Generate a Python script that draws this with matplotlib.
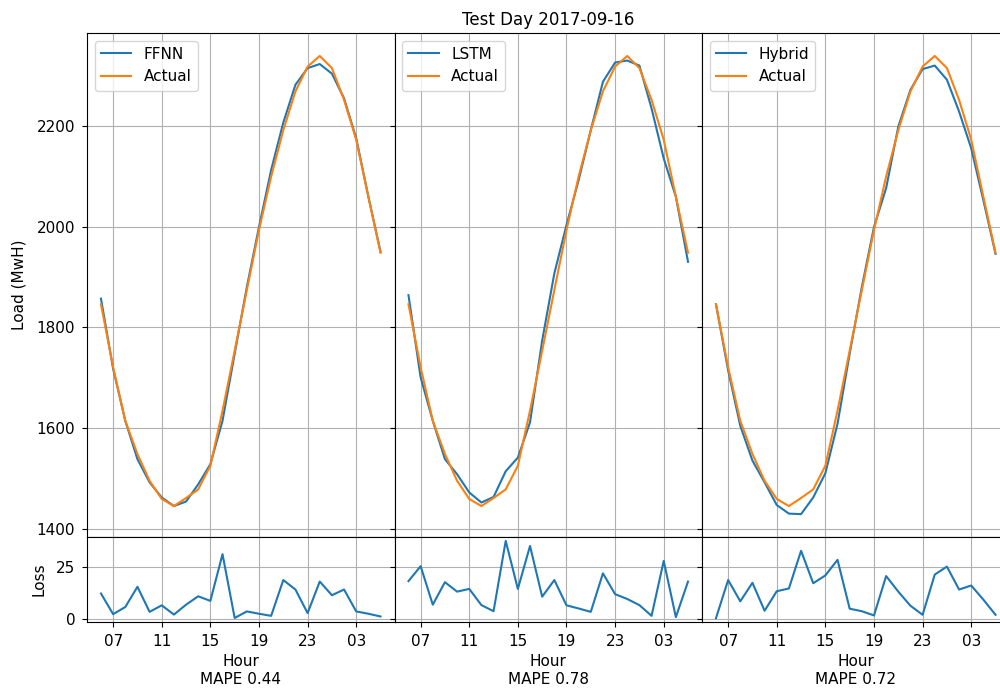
import numpy as np
import matplotlib
matplotlib.use("Agg")
import matplotlib.pyplot as plt

# hourly points from 06:00 to 05:00 next day
hours = list(range(6, 30))
tick_pos = [7, 11, 15, 19, 23, 27]
tick_labels = ["07", "11", "15", "19", "23", "03"]

actual = [1846, 1721, 1615, 1549, 1496, 1460, 1446, 1462, 1479, 1526, 1635, 1754,
          1874, 1993, 2099, 2191, 2268, 2317, 2338, 2314, 2251, 2172, 2059, 1948]

ffnn = [1857, 1718, 1615, 1539, 1493, 1463, 1446, 1455, 1489, 1529, 1615, 1748,
        1880, 1999, 2112, 2206, 2281, 2314, 2322, 2303, 2254, 2175, 2059, 1950]
lstm = [1864, 1701, 1615, 1539, 1509, 1473, 1453, 1464, 1515, 1542, 1612, 1774,
        1907, 2003, 2092, 2191, 2287, 2325, 2329, 2319, 2234, 2135, 2059, 1930]
hybrid = [1846, 1715, 1605, 1536, 1493, 1448, 1431, 1430, 1463, 1511, 1609, 1748,
          1880, 1999, 2076, 2198, 2271, 2312, 2319, 2291, 2228, 2155, 2052, 1946]

loss_ffnn = [12.2, 2.4, 5.8, 15.4, 3.5, 6.6, 2.2, 6.9, 10.9, 8.7, 30.9, 0.6,
             3.7, 2.6, 1.6, 18.6, 14.1, 2.9, 17.9, 11.4, 14.1, 3.7, 2.6, 1.3]
loss_lstm = [18.1, 25.2, 6.9, 17.6, 13.1, 14.4, 6.7, 3.8, 37.2, 14.4, 34.8, 10.7,
             18.6, 6.6, 5.1, 3.5, 21.8, 11.9, 9.6, 6.7, 1.6, 27.7, 1.0, 17.9]
loss_hybrid = [0.5, 18.6, 8.5, 17.3, 4.0, 13.3, 14.6, 32.5, 17.1, 20.8, 28.2, 5.0,
               3.8, 1.8, 20.5, 13.1, 6.4, 2.1, 21.2, 25.0, 14.1, 16.0, 9.3, 2.1]

models = ["FFNN", "LSTM", "Hybrid"]
preds = [ffnn, lstm, hybrid]
losses = [loss_ffnn, loss_lstm, loss_hybrid]
mape = [0.44, 0.78, 0.72]

plt.rcParams['font.size'] = 11
plt.rcParams['xtick.major.pad'] = 5
plt.rcParams['ytick.major.pad'] = 5

fig = plt.figure(figsize=(10, 6.89), dpi=100)
gs = fig.add_gridspec(2, 3, left=0.087, right=1.0095, top=0.952, bottom=0.0972,
                      height_ratios=[504, 85], wspace=0, hspace=0)
axs = gs.subplots(sharex='col', sharey='row')

for j in range(3):
    top = axs[0, j]
    bot = axs[1, j]
    top.plot(hours, preds[j], label=models[j])
    top.plot(hours, actual, label="Actual")
    top.legend(loc="upper left")
    top.grid(True)
    bot.plot(hours, losses[j])
    bot.grid(True)
    bot.set_xticks(tick_pos)
    bot.set_xticklabels(tick_labels)
    bot.set_xlabel("Hour\nMAPE %.2f" % mape[j])

axs[0, 0].set_yticks([1400, 1600, 1800, 2000, 2200])
axs[1, 0].set_yticks([0, 25])
axs[0, 0].set_ylabel("Load (MwH)", labelpad=7)
axs[1, 0].set_ylabel("Loss", labelpad=7)
axs[0, 1].set_title("Test Day 2017-09-16", fontsize=12)

fig.savefig("out.png", dpi=100)
